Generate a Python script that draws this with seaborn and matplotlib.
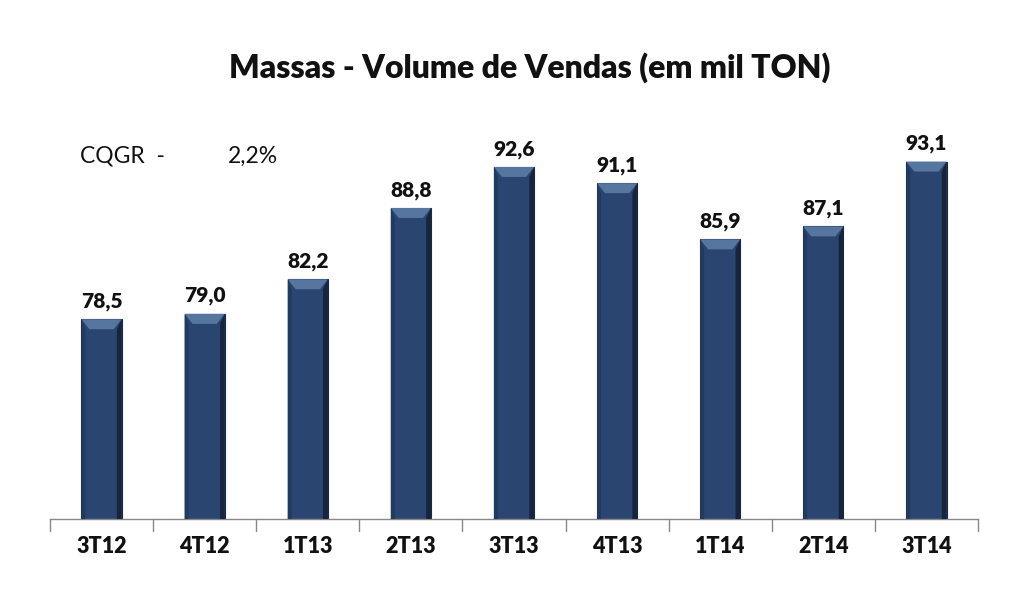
import matplotlib
matplotlib.use("Agg")
import matplotlib.pyplot as plt
import seaborn as sns
import pandas as pd
from matplotlib.patches import Polygon

categories = ["3T12", "4T12", "1T13", "2T13", "3T13", "4T13", "1T14", "2T14", "3T14"]
values = [78.5, 79.0, 82.2, 88.8, 92.6, 91.1, 85.9, 87.1, 93.1]
value_labels = ["78,5", "79,0", "82,2", "88,8", "92,6", "91,1", "85,9", "87,1", "93,1"]
title = "Massas - Volume de Vendas (em mil TON)"
cagr_label = "CQGR  -"
cagr_value = "2,2%"

sns.set_theme(style="white")
plt.rcParams['font.family'] = ['Lato', 'DejaVu Sans']

df = pd.DataFrame({"cat": categories, "val": values})

fig = plt.figure(figsize=(10.23, 6.10), dpi=100)
ax = fig.add_axes([50/1023, 1-519/610, 928/1023, 419/610])
sns.barplot(data=df, x="cat", y="val", color="#2b4571", width=0.39,
            saturation=1, ax=ax, edgecolor="#1a2a45", linewidth=0.8)
ax.set_ylim(60, 98.8)
ax.set_xlim(-0.5, len(categories) - 0.5)

# bevel overlays derived from bar geometry
fig.canvas.draw()
inv = ax.transData.inverted()
for p in ax.patches:
    x0, y0 = p.get_x(), p.get_y()
    w, h = p.get_width(), p.get_height()
    x1, y1 = x0 + w, y0 + h
    (px0, py0) = ax.transData.transform((x0, y0))
    dx = inv.transform((px0 + 8, py0))[0] - x0
    dy = inv.transform((px0, py0 + 10))[1] - y0
    dyb = inv.transform((px0, py0 + 4))[1] - y0
    # top facet
    ax.add_patch(Polygon([(x0, y1), (x1, y1), (x1 - dx, y1 - dy), (x0 + dx, y1 - dy)],
                         closed=True, facecolor="#5676a0", edgecolor="none", zorder=3))
    # right facet
    ax.add_patch(Polygon([(x1, y1), (x1, y0), (x1 - dx * 0.6, y0 + dyb), (x1 - dx * 0.6, y1 - dy)],
                         closed=True, facecolor="#17243c", edgecolor="none", zorder=3))
    # left facet
    ax.add_patch(Polygon([(x0, y1), (x0, y0), (x0 + dx * 0.5, y0 + dyb), (x0 + dx * 0.5, y1 - dy)],
                         closed=True, facecolor="#223a60", edgecolor="none", zorder=3))
    # bottom facet
    ax.add_patch(Polygon([(x0, y0), (x1, y0), (x1 - dx * 0.6, y0 + dyb), (x0 + dx * 0.5, y0 + dyb)],
                         closed=True, facecolor="#1f3354", edgecolor="none", zorder=3))

for i, (v, lab) in enumerate(zip(values, value_labels)):
    ax.annotate(lab, xy=(i, v), xytext=(0, 6), textcoords="offset points",
                ha="center", va="bottom", fontsize=15, fontweight="heavy", color="#111111")

for s in ["top", "right", "left"]:
    ax.spines[s].set_visible(False)
ax.spines["bottom"].set_color("#888888")
ax.spines["bottom"].set_linewidth(1.0)
ax.set_yticks([])
ax.set_xlabel("")
ax.set_ylabel("")
ax.set_xticks(range(len(categories)))
ax.set_xticklabels(categories, fontsize=15.5, fontweight="heavy", color="#111111")
ax.tick_params(axis="x", length=0, pad=12)
# boundary ticks
for b in [i - 0.5 for i in range(len(categories) + 1)]:
    ax.plot([b, b], [0, -0.028], transform=ax.get_xaxis_transform(), color="#888888",
            lw=1.0, clip_on=False)

fig.text(530/1023, 1-68/610, title, ha="center", va="center", fontsize=23,
         fontweight="heavy", color="#111111")
fig.text(80/1023, 1-156/610, cagr_label, ha="left", va="center", fontsize=16.5, color="#111111")
fig.text(228/1023, 1-156/610, cagr_value, ha="left", va="center", fontsize=16.5, color="#111111")

fig.savefig("out.png", dpi=100)
